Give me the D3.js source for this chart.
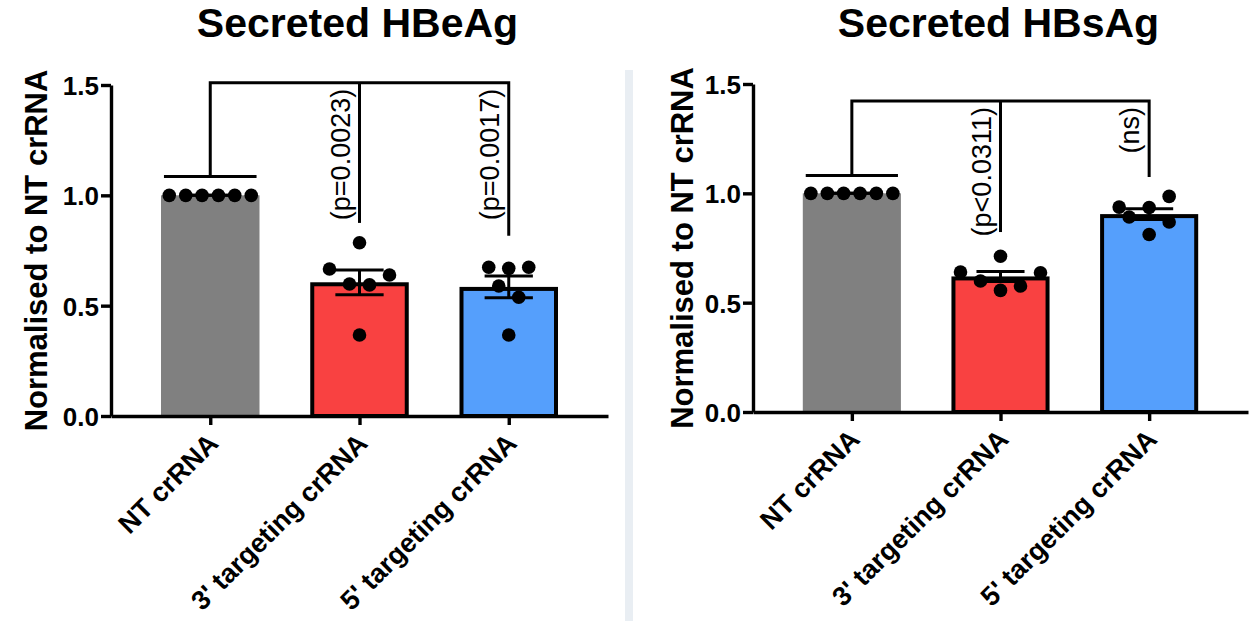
<!DOCTYPE html>
<html>
<head>
<meta charset="utf-8">
<script src="https://cdn.jsdelivr.net/npm/d3@7"></script>
<style>
  body { margin: 0; background: #fff; }
  svg { display: block; font-family: "Liberation Sans", Arial, Helvetica, sans-serif; }
  .axis path, .axis line { stroke: #000; stroke-width: 3.4; }
  .axis text { font-weight: bold; fill: #000; }
</style>
</head>
<body>
<script>
// groups on the x axis
var categories = ["NT crRNA", "3' targeting crRNA", "5' targeting crRNA"];
var yTicks = [0, 0.5, 1.0, 1.5];

// Secreted HBeAg
var heMeans = [1.0, 0.606, 0.585];
var heSem = [0, 0.056, 0.049];
var hePoints = [
    [1, 1, 1, 1, 1, 1],
    [0.785, 0.666, 0.639, 0.598, 0.594, 0.367],
    [0.674, 0.669, 0.674, 0.589, 0.538, 0.367]
];
var heSlots = [
    [-4.1, -2.45, -0.82, 0.82, 2.45, 4.1],
    [0, -3, 3, -1, 1, 0],
    [-2, 0, 2, -1, 1, 0]
];
var heLabels = ["", "(p=0.0023)", "(p=0.0017)"];
// bracket: top level, level of the foot over NT, lower ends over the two groups
var heBracket = [1.51, 1.085, 0.875, 0.817];

// Secreted HBsAg
var hsMeans = [1.0, 0.620, 0.905];
var hsSem = [0, 0.023, 0.025];
var hsPoints = [
    [1, 1, 1, 1, 1, 1],
    [0.712, 0.640, 0.637, 0.599, 0.576, 0.556],
    [0.986, 0.937, 0.935, 0.892, 0.869, 0.812]
];
var hsSlots = [
    [-4.1, -2.45, -0.82, 0.82, 2.45, 4.1],
    [0, -4, 4, -2, 2, 0],
    [2, -3, 0, -2, 2, 0]
];
var hsLabels = ["", "(p<0.0311)", "(ns)"];
var hsBracket = [1.422, 1.082, 0.823, 1.075];

var barColors = ["#808080", "#f94141", "#559ffc"];

var width = 1250, height = 621;

var svg = d3.select("body").append("svg")
    .attr("width", width)
    .attr("height", height);

// light separator between the two panels
svg.append("rect")
    .attr("x", 625)
    .attr("y", 70)
    .attr("width", 8)
    .attr("height", height - 70)
    .attr("fill", "#e9eef3");

function drawPanel(opt) {
    var x = d3.scalePoint()
        .domain(categories)
        .range([opt.left, opt.right])
        .padding(0.665);

    var y = d3.scaleLinear()
        .domain([0, 1.5])
        .range([opt.bottom, opt.top]);

    var barW = x.step() * 0.66;
    var g = svg.append("g");

    // title
    g.append("text")
        .attr("x", (opt.left + opt.right) / 2 - 2)
        .attr("y", 37)
        .attr("text-anchor", "middle")
        .style("font-size", "41px")
        .style("font-weight", "bold")
        .text(opt.title);

    // y label
    g.append("text")
        .attr("transform", "translate(" + opt.labelX + "," + ((opt.top + opt.bottom) / 2) + ") rotate(-90)")
        .attr("text-anchor", "middle")
        .style("font-size", "31px")
        .style("font-weight", "bold")
        .text("Normalised to NT crRNA");

    // bars
    g.selectAll("rect.bar")
        .data(opt.means)
        .enter().append("rect")
        .attr("class", "bar")
        .attr("x", function(d, i) { return x(categories[i]) - barW / 2 + (i ? 2 : 0); })
        .attr("y", function(d, i) { return y(d) + (i ? 2 : 0); })
        .attr("width", function(d, i) { return barW - (i ? 4 : 0); })
        .attr("height", function(d, i) { return y(0) - y(d) - (i ? 2 : 0); })
        .attr("fill", function(d, i) { return barColors[i]; })
        .attr("stroke", function(d, i) { return i ? "#000" : "none"; })
        .attr("stroke-width", 4);

    // error bars
    var capW = barW * 0.49;
    var err = g.selectAll("g.err")
        .data(opt.means)
        .enter().append("g")
        .attr("class", "err")
        .attr("stroke", "#000")
        .attr("stroke-width", 3);
    err.append("line")
        .attr("x1", function(d, i) { return x(categories[i]); })
        .attr("x2", function(d, i) { return x(categories[i]); })
        .attr("y1", function(d, i) { return y(d + opt.sem[i]); })
        .attr("y2", function(d, i) { return y(d - opt.sem[i]); });
    [1, -1].forEach(function(s) {
        err.append("line")
            .attr("x1", function(d, i) { return x(categories[i]) - capW / 2; })
            .attr("x2", function(d, i) { return x(categories[i]) + capW / 2; })
            .attr("y1", function(d, i) { return y(d + s * opt.sem[i]); })
            .attr("y2", function(d, i) { return y(d + s * opt.sem[i]); });
    });

    // individual points
    var pts = [];
    opt.points.forEach(function(arr, i) {
        arr.forEach(function(v, j) {
            pts.push({cat: categories[i], v: v, slot: opt.slots[i][j]});
        });
    });
    g.selectAll("circle.pt")
        .data(pts)
        .enter().append("circle")
        .attr("class", "pt")
        .attr("cx", function(d) { return x(d.cat) + d.slot * 10; })
        .attr("cy", function(d) { return y(d.v); })
        .attr("r", 6.8)
        .attr("fill", "#000");

    // axes
    var yAxis = d3.axisLeft(y)
        .tickValues(yTicks)
        .tickFormat(d3.format(".1f"))
        .tickSize(10)
        .tickSizeOuter(0)
        .tickPadding(2);
    g.append("g")
        .attr("class", "axis")
        .attr("transform", "translate(" + opt.left + ",0)")
        .call(yAxis)
        .selectAll("text")
        .style("font-size", "26px")
        .attr("dy", "0.36em");

    var xAxis = d3.axisBottom(x)
        .tickSize(9)
        .tickSizeOuter(0);
    var xg = g.append("g")
        .attr("class", "axis")
        .attr("transform", "translate(0," + opt.bottom + ")")
        .call(xAxis);
    xg.selectAll("text")
        .style("font-size", "27px")
        .attr("text-anchor", "end")
        .attr("y", 0)
        .attr("dy", 0)
        .attr("transform", "translate(9,29) rotate(-45)");

    // comparison bracket
    var b = opt.bracket;
    var x0 = x(categories[0]), x1 = x(categories[1]), x2 = x(categories[2]);
    var br = g.append("g")
        .attr("fill", "none")
        .attr("stroke", "#000")
        .attr("stroke-width", 3);
    br.append("path")
        .attr("d", "M" + x0 + "," + y(b[1]) + "V" + y(b[0]) + "H" + x2 + "V" + y(b[3]));
    br.append("path")
        .attr("d", "M" + x1 + "," + y(b[0]) + "V" + y(b[2]));
    br.append("path")
        .attr("d", "M" + (x0 - barW * 0.47) + "," + y(b[1]) + "H" + (x0 + barW * 0.47));

    g.selectAll("text.pval")
        .data(opt.labels.slice(1))
        .enter().append("text")
        .attr("class", "pval")
        .attr("transform", function(d, i) {
            return "translate(" + (x(categories[i + 1]) - 10) + "," + (y(b[0]) + 6) + ") rotate(-90)";
        })
        .attr("text-anchor", "end")
        .style("font-size", "27px")
        .text(function(d) { return d; });
}

drawPanel({
    title: "Secreted HBeAg",
    left: 111, right: 608, top: 85, bottom: 416, labelX: 47,
    means: heMeans, sem: heSem, points: hePoints, slots: heSlots,
    labels: heLabels, bracket: heBracket
});

drawPanel({
    title: "Secreted HBsAg",
    left: 753, right: 1248, top: 84, bottom: 412, labelX: 693,
    means: hsMeans, sem: hsSem, points: hsPoints, slots: hsSlots,
    labels: hsLabels, bracket: hsBracket
});
</script>
</body>
</html>
